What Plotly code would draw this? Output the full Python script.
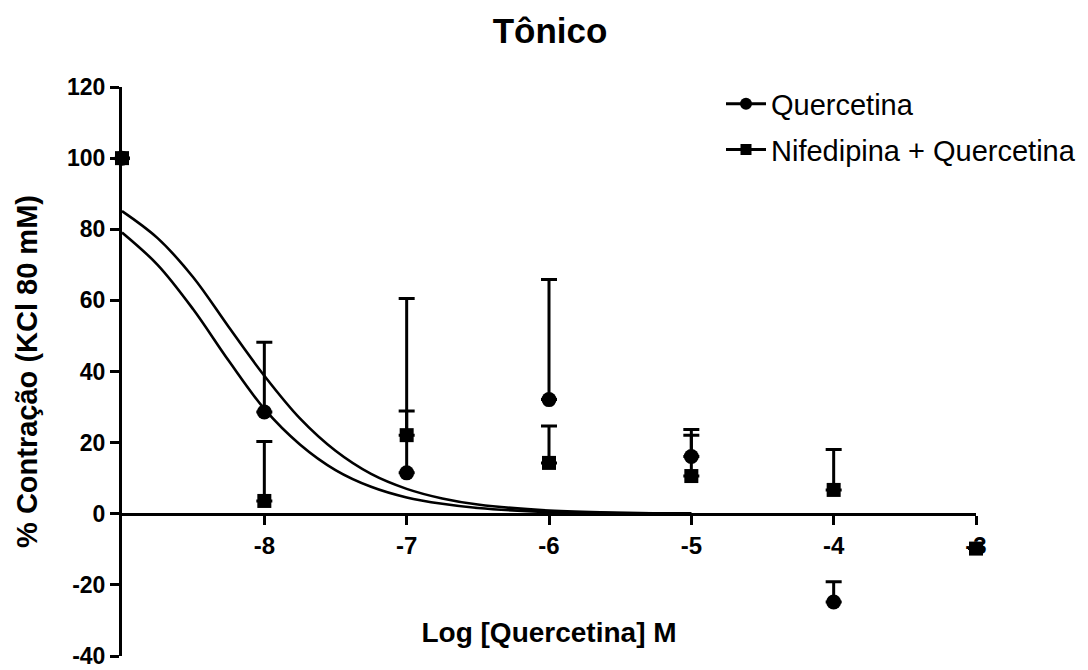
import plotly.graph_objects as go

# ---- data ----
log_dose = [-9, -8, -7, -6, -5, -4, -3]

quer_mean = [100, 28.6, 11.5, 32.1, 16.1, -24.8, None]
quer_err = [0, 19.6, 17.4, 33.8, 7.6, 5.7, 0]

nife_mean = [100, 3.6, 22.1, 14.3, 10.6, 6.7, -9.8]
nife_err = [0, 16.7, 38.4, 10.4, 11.5, 11.4, 0]

# fitted curves
curve_x = [-9, -8.75, -8.5, -8.25, -8.0, -7.75, -7.5, -7.25, -7.0, -6.75, -6.5, -6.0, -5.5, -5.0]
curve_upper = [85.1, 77.5, 66.5, 52.5, 38.8, 26.8, 17.7, 11.2, 7.0, 4.3, 2.6, 0.9, 0.3, 0.1]
curve_lower = [79.1, 70.0, 57.5, 43.0, 29.5, 19.5, 12.3, 7.6, 4.6, 2.8, 1.6, 0.5, 0.2, 0.05]

x_ticks = [-8, -7, -6, -5, -4, -3]
y_ticks = [-40, -20, 0, 20, 40, 60, 80, 100, 120]

FONT = "Liberation Sans, Arial, Helvetica, sans-serif"
BLACK = "#000000"

fig = go.Figure()

# fitted curves
for yc in (curve_upper, curve_lower):
    fig.add_trace(go.Scatter(
        x=curve_x, y=yc, mode="lines", line=dict(color=BLACK, width=2.6, shape="spline"),
        showlegend=False, hoverinfo="skip"))

# data points with upward error bars
fig.add_trace(go.Scatter(
    x=log_dose, y=quer_mean, mode="markers",
    marker=dict(symbol="circle", size=15, color=BLACK),
    error_y=dict(type="data", symmetric=False, array=quer_err,
                 arrayminus=[0] * len(quer_err), color=BLACK, thickness=3, width=8),
    showlegend=False, cliponaxis=False))
fig.add_trace(go.Scatter(
    x=log_dose, y=nife_mean, mode="markers",
    marker=dict(symbol="square", size=14, color=BLACK),
    error_y=dict(type="data", symmetric=False, array=nife_err,
                 arrayminus=[0] * len(nife_err), color=BLACK, thickness=3, width=8),
    showlegend=False, cliponaxis=False))

# legend entries
fig.add_trace(go.Scatter(
    x=[None], y=[None], mode="lines+markers", name="Quercetina", legendgroup="a",
    line=dict(color=BLACK, width=3), marker=dict(symbol="circle", size=12, color=BLACK)))
fig.add_trace(go.Scatter(
    x=[None], y=[None], mode="lines+markers", name="Nifedipina + Quercetina", legendgroup="b",
    line=dict(color=BLACK, width=3), marker=dict(symbol="square", size=11, color=BLACK)))

fig.update_layout(
    width=1088, height=670,
    margin=dict(l=122, r=112, t=87, b=14, autoexpand=False),
    paper_bgcolor="white", plot_bgcolor="white",
    font=dict(family=FONT, color=BLACK),
    title=dict(text="<b>Tônico</b>", x=550 / 1088, xanchor="center",
               y=1 - 31 / 670, yanchor="middle", font=dict(size=35, family=FONT)),
    legend=dict(x=(721 - 122) / 854, y=1.015, xanchor="left", yanchor="top",
                font=dict(size=29, family=FONT), bgcolor="rgba(0,0,0,0)",
                itemwidth=40, tracegroupgap=5),
    showlegend=True,
)

fig.update_xaxes(
    range=[-9, -3], tickvals=x_ticks, ticktext=[f"<b>{v}</b>" for v in x_ticks],
    showgrid=False, zeroline=False, showline=True, linecolor=BLACK, linewidth=3,
    ticks="outside", ticklen=9, tickwidth=3, tickcolor=BLACK,
    tickfont=dict(size=24, family=FONT), automargin=False,
    anchor="free", position=0.25, layer="below traces",
    title=dict(text="<b>Log [Quercetina] M</b>", font=dict(size=28, family=FONT), standoff=64),
)
fig.update_yaxes(
    range=[-40, 120], tickvals=y_ticks, ticktext=[f"<b>{v}</b>" for v in y_ticks],
    showgrid=False, zeroline=False, showline=True, linecolor=BLACK, linewidth=3,
    ticks="outside", ticklen=9, tickwidth=3, tickcolor=BLACK,
    tickfont=dict(size=23, family=FONT), layer="below traces", automargin=False,
    ticklabeloverflow="allow",
    title=dict(text="<b>% Contração (KCl 80 mM)</b>", font=dict(size=29, family=FONT), standoff=21),
)

fig.write_html("out.html")
